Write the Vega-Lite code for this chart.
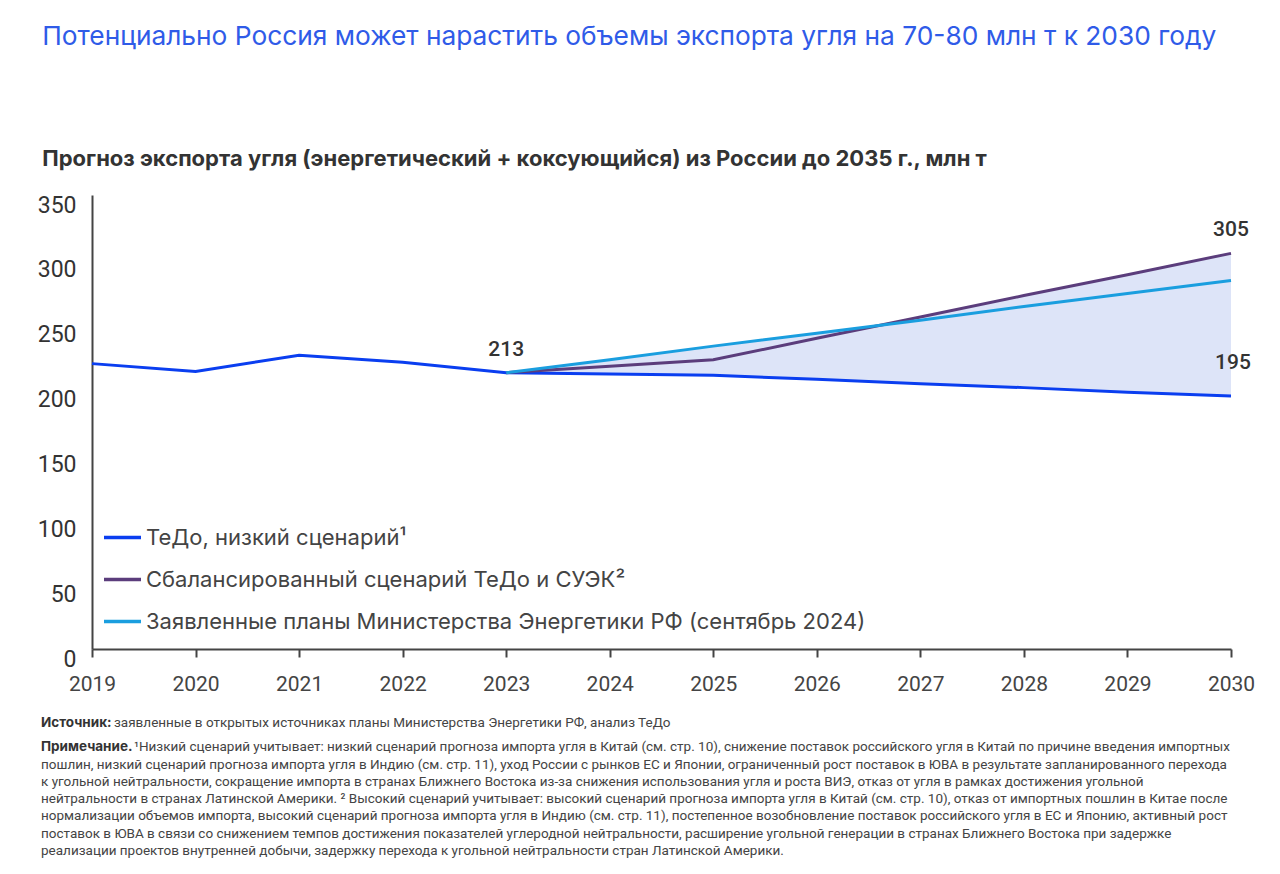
{
  "$schema": "https://vega.github.io/schema/vega-lite/v6.json",
  "background": "white",
  "padding": {"left": 37, "top": 23, "right": 10, "bottom": 5},
  "title": {
    "text": "Потенциально Россия может нарастить объемы экспорта угля на 70-80 млн т к 2030 году",
    "subtitle": "Прогноз экспорта угля (энергетический + коксующийся) из России до 2035 г., млн т",
    "anchor": "start",
    "frame": "bounds",
    "font": "Inter",
    "fontSize": 26.3,
    "fontWeight": "normal",
    "color": "#2f5be8",
    "subtitleFont": "Inter",
    "subtitleFontSize": 22,
    "subtitleFontWeight": "bold",
    "subtitleColor": "#333333",
    "subtitlePadding": 99,
    "offset": 24,
    "dx": 5
  },
  "datasets": {
    "series": [
      {"year": 2019, "scenario": "ТеДо, низкий сценарий¹", "value": 220},
      {"year": 2020, "scenario": "ТеДо, низкий сценарий¹", "value": 214},
      {"year": 2021, "scenario": "ТеДо, низкий сценарий¹", "value": 226.5},
      {"year": 2022, "scenario": "ТеДо, низкий сценарий¹", "value": 221},
      {"year": 2023, "scenario": "ТеДо, низкий сценарий¹", "value": 213},
      {"year": 2024, "scenario": "ТеДо, низкий сценарий¹", "value": 212},
      {"year": 2025, "scenario": "ТеДо, низкий сценарий¹", "value": 211},
      {"year": 2026, "scenario": "ТеДо, низкий сценарий¹", "value": 208},
      {"year": 2027, "scenario": "ТеДо, низкий сценарий¹", "value": 204.5},
      {"year": 2028, "scenario": "ТеДо, низкий сценарий¹", "value": 201.5},
      {"year": 2029, "scenario": "ТеДо, низкий сценарий¹", "value": 198},
      {"year": 2030, "scenario": "ТеДо, низкий сценарий¹", "value": 195},
      {"year": 2023, "scenario": "Сбалансированный сценарий ТеДо и СУЭК²", "value": 213},
      {"year": 2024, "scenario": "Сбалансированный сценарий ТеДо и СУЭК²", "value": 218},
      {"year": 2025, "scenario": "Сбалансированный сценарий ТеДо и СУЭК²", "value": 223},
      {"year": 2026, "scenario": "Сбалансированный сценарий ТеДо и СУЭК²", "value": 239.5},
      {"year": 2027, "scenario": "Сбалансированный сценарий ТеДо и СУЭК²", "value": 256},
      {"year": 2028, "scenario": "Сбалансированный сценарий ТеДо и СУЭК²", "value": 272.5},
      {"year": 2029, "scenario": "Сбалансированный сценарий ТеДо и СУЭК²", "value": 288.5},
      {"year": 2030, "scenario": "Сбалансированный сценарий ТеДо и СУЭК²", "value": 305},
      {"year": 2023, "scenario": "Заявленные планы Министерства Энергетики РФ (сентябрь 2024)", "value": 213},
      {"year": 2024, "scenario": "Заявленные планы Министерства Энергетики РФ (сентябрь 2024)", "value": 223},
      {"year": 2025, "scenario": "Заявленные планы Министерства Энергетики РФ (сентябрь 2024)", "value": 233.5},
      {"year": 2026, "scenario": "Заявленные планы Министерства Энергетики РФ (сентябрь 2024)", "value": 243.5},
      {"year": 2027, "scenario": "Заявленные планы Министерства Энергетики РФ (сентябрь 2024)", "value": 253.5},
      {"year": 2028, "scenario": "Заявленные планы Министерства Энергетики РФ (сентябрь 2024)", "value": 264},
      {"year": 2029, "scenario": "Заявленные планы Министерства Энергетики РФ (сентябрь 2024)", "value": 274},
      {"year": 2030, "scenario": "Заявленные планы Министерства Энергетики РФ (сентябрь 2024)", "value": 284}
    ],
    "band": [
      {"year": 2023, "lo": 213, "hi": 213},
      {"year": 2024, "lo": 212, "hi": 223},
      {"year": 2025, "lo": 211, "hi": 233.5},
      {"year": 2026, "lo": 208, "hi": 243.5},
      {"year": 2026.6, "lo": 206, "hi": 249.7},
      {"year": 2027, "lo": 204.5, "hi": 256},
      {"year": 2028, "lo": 201.5, "hi": 272.5},
      {"year": 2029, "lo": 198, "hi": 288.5},
      {"year": 2030, "lo": 195, "hi": 305}
    ],
    "labels": [
      {"year": 2023, "value": 213, "label": "213", "pos": "above"},
      {"year": 2030, "value": 305, "label": "305", "pos": "above"},
      {"year": 2030, "value": 195, "label": "195", "pos": "inside"}
    ],
    "notes": [
      {"line": 1, "kind": "b", "text": "Источник:"},
      {"line": 1, "kind": "t", "text": "заявленные в открытых источниках планы Министерства Энергетики РФ, анализ ТеДо"},
      {"line": 2, "kind": "b", "text": "Примечание."},
      {"line": 2, "kind": "t", "text": "¹Низкий сценарий учитывает: низкий сценарий прогноза импорта угля в Китай (см. стр. 10), снижение поставок российского угля в Китай по причине введения импортных"},
      {"line": 3, "kind": "t", "text": "пошлин, низкий сценарий прогноза импорта угля в Индию (см. стр. 11), уход России с рынков ЕС и Японии, ограниченный рост поставок в ЮВА в результате запланированного перехода"},
      {"line": 4, "kind": "t", "text": "к угольной нейтральности, сокращение импорта в странах Ближнего Востока из-за снижения использования угля и роста ВИЭ, отказ от угля в рамках достижения угольной"},
      {"line": 5, "kind": "t", "text": "нейтральности в странах Латинской Америки. ² Высокий сценарий учитывает: высокий сценарий прогноза импорта угля в Китай (см. стр. 10), отказ от импортных пошлин в Китае после"},
      {"line": 6, "kind": "t", "text": "нормализации объемов импорта, высокий сценарий прогноза импорта угля в Индию (см. стр. 11), постепенное возобновление поставок российского угля в ЕС и Японию, активный рост"},
      {"line": 7, "kind": "t", "text": "поставок в ЮВА в связи со снижением темпов достижения показателей углеродной нейтральности, расширение угольной генерации в странах Ближнего Востока при задержке"},
      {"line": 8, "kind": "t", "text": "реализации проектов внутренней добычи, задержку перехода к угольной нейтральности стран Латинской Америки."}
    ]
  },
  "spacing": 22,
  "vconcat": [
    {
      "width": 1139,
      "height": 454,
      "encoding": {
        "x": {
          "field": "year",
          "type": "quantitative",
          "scale": {"domain": [2019, 2030], "nice": false, "zero": false},
          "axis": {
            "values": [2019, 2020, 2021, 2022, 2023, 2024, 2025, 2026, 2027, 2028, 2029, 2030],
            "format": "d",
            "title": null,
            "grid": false,
            "labelFlush": false,
            "labelFont": "Roboto",
            "labelFontSize": 21,
            "labelColor": "#444444",
            "labelPadding": 16,
            "tickSize": 8,
            "tickWidth": 2,
            "tickColor": "#444444",
            "domainColor": "#444444",
            "domainWidth": 2
          }
        }
      },
      "layer": [
        {
          "data": {"name": "band"},
          "mark": {"type": "area", "color": "#dde4f8", "opacity": 1},
          "encoding": {
            "y": {
              "field": "lo",
              "type": "quantitative",
              "scale": {"domain": [0, 350], "nice": false},
              "axis": {
                "values": [0, 50, 100, 150, 200, 250, 300, 350],
                "title": null,
                "grid": false,
                "ticks": false,
                "labelFont": "Roboto",
                "labelFontSize": 23,
                "labelColor": "#333333",
                "labelPadding": 16,
                "labelOffset": 10,
                "domainColor": "#444444",
                "domainWidth": 2
              }
            },
            "y2": {"field": "hi"}
          }
        },
        {
          "data": {"name": "series"},
          "mark": {"type": "line", "strokeWidth": 3},
          "encoding": {
            "y": {"field": "value", "type": "quantitative"},
            "color": {
              "field": "scenario",
              "type": "nominal",
              "scale": {
                "domain": ["ТеДо, низкий сценарий¹", "Сбалансированный сценарий ТеДо и СУЭК²", "Заявленные планы Министерства Энергетики РФ (сентябрь 2024)"],
                "range": ["#0a3ef0", "#5b3d7c", "#1a9edf"]
              },
              "legend": {
                "orient": "none",
                "legendX": 10,
                "legendY": 322,
                "title": null,
                "symbolType": "stroke",
                "symbolSize": 1369,
                "symbolStrokeWidth": 3.5,
                "labelFont": "Inter",
                "labelFontSize": 22,
                "labelColor": "#444444",
                "labelLimit": 1000,
                "labelOffset": 3,
                "rowPadding": 10
              }
            }
          }
        },
        {
          "data": {"name": "labels"},
          "transform": [{"filter": "datum.pos == 'above'"}],
          "mark": {"type": "text", "font": "Roboto", "fontSize": 21, "fontWeight": 500, "color": "#333333", "dy": -23},
          "encoding": {
            "y": {"field": "value", "type": "quantitative"},
            "text": {"field": "label"}
          }
        },
        {
          "data": {"name": "labels"},
          "transform": [{"filter": "datum.pos == 'inside'"}],
          "mark": {"type": "text", "font": "Roboto", "fontSize": 21, "fontWeight": 500, "color": "#333333", "dy": -33, "dx": 2},
          "encoding": {
            "y": {"field": "value", "type": "quantitative"},
            "text": {"field": "label"}
          }
        }
      ]
    },
    {
      "width": 1139,
      "height": 121,
      "data": {"name": "notes"},
      "encoding": {
        "x": {"datum": 0, "type": "quantitative", "scale": {"domain": [0, 1], "nice": false}, "axis": null},
        "y": {"field": "line", "type": "quantitative", "scale": {"domain": [1, 8], "reverse": true, "nice": false, "zero": false}, "axis": null},
        "text": {"field": "text"}
      },
      "layer": [
        {
          "transform": [{"filter": "datum.kind == 'b' && datum.line == 1"}],
          "mark": {"type": "text", "align": "left", "baseline": "middle", "font": "Inter", "fontSize": 13.5, "fontWeight": "bold", "color": "#333333", "dx": -51, "dy": -7}
        },
        {
          "transform": [{"filter": "datum.kind == 't' && datum.line == 1"}],
          "mark": {"type": "text", "align": "left", "baseline": "middle", "font": "Roboto", "fontSize": 13.5, "color": "#444444", "dx": 22, "dy": -7}
        },
        {
          "transform": [{"filter": "datum.kind == 'b' && datum.line == 2"}],
          "mark": {"type": "text", "align": "left", "baseline": "middle", "font": "Inter", "fontSize": 13.5, "fontWeight": "bold", "color": "#333333", "dx": -51}
        },
        {
          "transform": [{"filter": "datum.kind == 't' && datum.line == 2"}],
          "mark": {"type": "text", "align": "left", "baseline": "middle", "font": "Roboto", "fontSize": 13.5, "color": "#444444", "dx": 42}
        },
        {
          "transform": [{"filter": "datum.kind == 't' && datum.line >= 3"}],
          "mark": {"type": "text", "align": "left", "baseline": "middle", "font": "Roboto", "fontSize": 13.5, "color": "#444444", "dx": -51}
        }
      ]
    }
  ],
  "config": {
    "view": {"stroke": null},
    "font": "Roboto"
  }
}
